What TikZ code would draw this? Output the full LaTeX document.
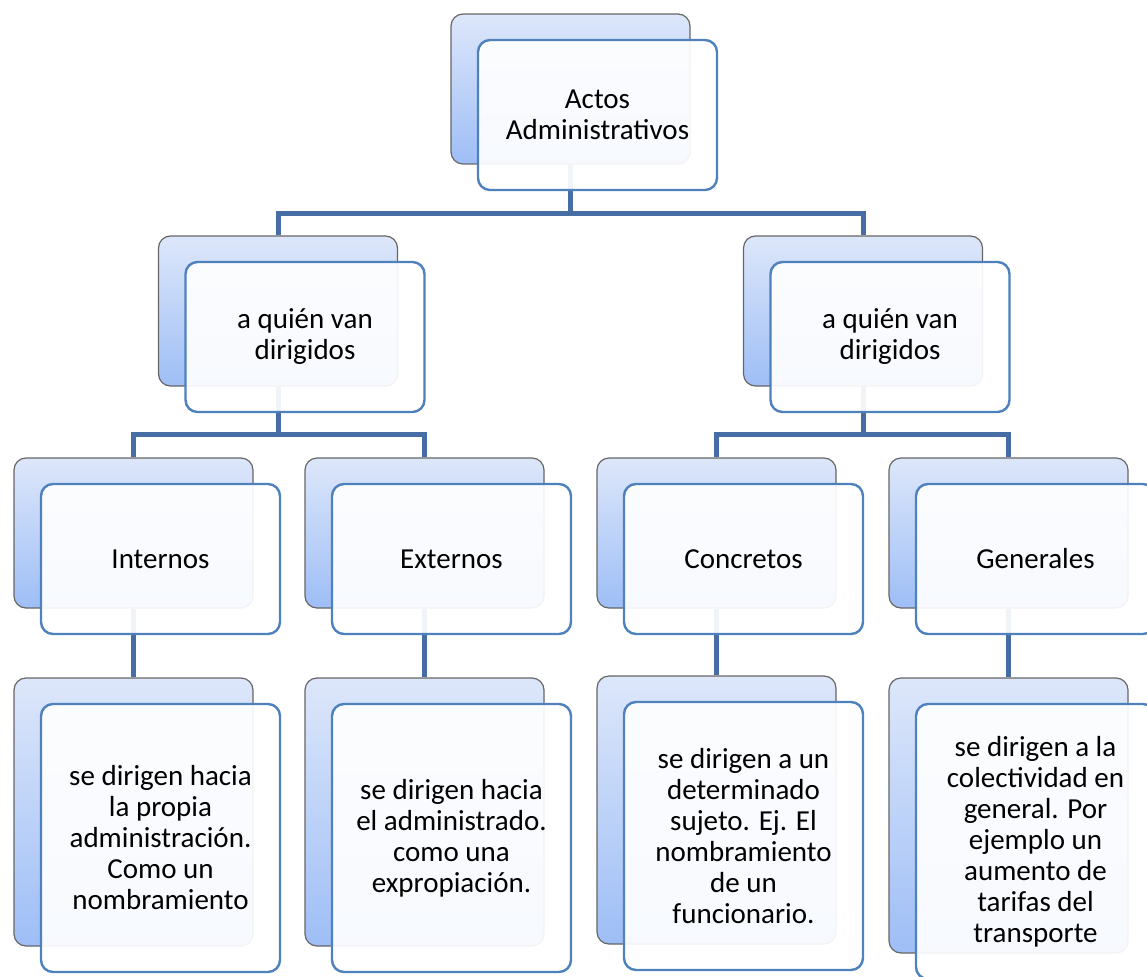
\documentclass[tikz,border=0pt]{standalone}
\usepackage{fontspec}
\setmainfont{Carlito}
\usepackage{xcolor}
\usepackage{tikz}
\usetikzlibrary{positioning}

\definecolor{ramaazul}{RGB}{70,110,165}
\definecolor{bordeazul}{RGB}{79,129,189}
\definecolor{fondoarriba}{RGB}{221,231,250}
\definecolor{fondoabajo}{RGB}{158,190,246}

\begin{document}
\begin{tikzpicture}[x=1pt,y=-1pt,line join=miter]
        \tikzstyle{fondo}=[draw=black!60,line width=1.2pt,rounded corners=12pt,
            top color=fondoarriba,bottom color=fondoabajo,
            minimum width=239pt,minimum height=150pt,inner sep=0pt]
        \tikzstyle{frente}=[draw=bordeazul,line width=2.4pt,rounded corners=12pt,
            fill=white,fill opacity=0.92,text opacity=1,text=black,
            minimum width=239pt,minimum height=150pt,inner sep=0pt,align=center,
            font=\fontsize{29}{31}\selectfont]
        \tikzstyle{rama}=[draw=ramaazul,line width=5pt]
        \tikzstyle{alto}=[minimum height=268pt]

        \useasboundingbox (0,0) rectangle (1147,976);
        \clip (0,0) rectangle (1147,976);

        % cajas de fondo
        \node[fondo] (actosB) at (570.5,89) {};
        \node[fondo] (dirLB) at (278,311) {};
        \node[fondo] (dirRB) at (863,311) {};
        \node[fondo] (intB) at (133.5,533) {};
        \node[fondo] (extB) at (424.5,533) {};
        \node[fondo] (conB) at (716.5,533) {};
        \node[fondo] (genB) at (1008.5,533) {};
        \node[fondo,alto] (intDB) at (133.5,812) {};
        \node[fondo,alto] (extDB) at (424.5,812) {};
        \node[fondo,alto] (conDB) at (716.5,810) {};
        \node[fondo,alto,minimum height=275pt] (genDB) at (1008.5,815.5) {};

        % ramas
        \draw[rama] (actosB.south) -- ++(0,49) -| (dirLB.north);
        \draw[rama] (actosB.south) -- ++(0,49) -| (dirRB.north);
        \draw[rama] (dirLB.south) -- ++(0,48) -| (intB.north);
        \draw[rama] (dirLB.south) -- ++(0,48) -| (extB.north);
        \draw[rama] (dirRB.south) -- ++(0,48) -| (conB.north);
        \draw[rama] (dirRB.south) -- ++(0,48) -| (genB.north);
        \draw[rama] (intB.south) -- (intDB.north);
        \draw[rama] (extB.south) -- (extDB.north);
        \draw[rama] (conB.south) -- (conDB.north);
        \draw[rama] (genB.south) -- (genDB.north);

        % cajas de frente
        \node[frente] (actos) at ([shift={(27,26)}]actosB.center) {Actos\\Administrativos};
        \node[frente] (dirL) at ([shift={(27,26)}]dirLB.center) {a quién van\\dirigidos};
        \node[frente] (dirR) at ([shift={(27,26)}]dirRB.center) {a quién van\\dirigidos};
        \node[frente] (int) at ([shift={(27,26)}]intB.center) {Internos};
        \node[frente] (ext) at ([shift={(27,26)}]extB.center) {Externos};
        \node[frente] (con) at ([shift={(27,26)}]conB.center) {Concretos};
        \node[frente] (gen) at ([shift={(27,26)}]genB.center) {Generales};
        \node[frente,alto] (intD) at ([shift={(27,26)}]intDB.center)
            {se dirigen hacia\\la propia\\administración.\\Como un\\nombramiento};
        \node[frente,alto] (extD) at ([shift={(27,26)}]extDB.center)
            {se dirigen hacia\\el administrado.\\como una\\expropiación.};
        \node[frente,alto] (conD) at ([shift={(27,26)}]conDB.center)
            {se dirigen a un\\determinado\\sujeto. Ej. El\\nombramiento\\de un\\funcionario.};
        \node[frente,alto,minimum height=275pt] (genD) at ([shift={(27,26)}]genDB.center)
            {se dirigen a la\\colectividad en\\general. Por\\ejemplo un\\aumento de\\tarifas del\\transporte};
    \end{tikzpicture}
\end{document}
